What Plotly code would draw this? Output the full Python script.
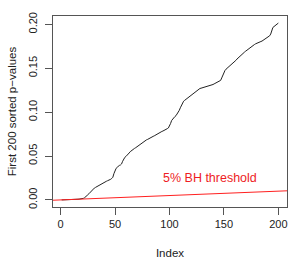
import plotly.graph_objects as go

# First 200 sorted p-values
pvals = [
    0.0000, 0.0000, 0.0001, 0.0001, 0.0001, 0.0002, 0.0002, 0.0003, 0.0003, 0.0004,
    0.0004, 0.0005, 0.0005, 0.0006, 0.0007, 0.0008, 0.0009, 0.0010, 0.0011, 0.0013,
    0.0018, 0.0025, 0.0033, 0.0045, 0.0058, 0.0070, 0.0085, 0.0098, 0.0110, 0.0122,
    0.0135, 0.0142, 0.0150, 0.0158, 0.0163, 0.0170, 0.0178, 0.0185, 0.0190, 0.0197,
    0.0205, 0.0212, 0.0218, 0.0222, 0.0228, 0.0235, 0.0245, 0.0258, 0.0300, 0.0345,
    0.0360, 0.0372, 0.0385, 0.0393, 0.0398, 0.0410, 0.0440, 0.0465, 0.0485, 0.0495,
    0.0505, 0.0520, 0.0535, 0.0550, 0.0562, 0.0572, 0.0580, 0.0588, 0.0595, 0.0605,
    0.0615, 0.0625, 0.0635, 0.0645, 0.0655, 0.0665, 0.0672, 0.0678, 0.0685, 0.0690,
    0.0695, 0.0702, 0.0710, 0.0718, 0.0724, 0.0730, 0.0738, 0.0748, 0.0755, 0.0762,
    0.0770, 0.0776, 0.0780, 0.0785, 0.0790, 0.0798, 0.0805, 0.0812, 0.0820, 0.0840,
    0.0870, 0.0905, 0.0925, 0.0940, 0.0950, 0.0960, 0.0978, 0.0995, 0.1020, 0.1050,
    0.1080, 0.1105, 0.1125, 0.1135, 0.1145, 0.1155, 0.1165, 0.1175, 0.1185, 0.1192,
    0.1200, 0.1210, 0.1222, 0.1235, 0.1248, 0.1258, 0.1265, 0.1270, 0.1273, 0.1276,
    0.1280, 0.1285, 0.1290, 0.1295, 0.1298, 0.1302, 0.1305, 0.1308, 0.1310, 0.1315,
    0.1322, 0.1330, 0.1338, 0.1345, 0.1350, 0.1355, 0.1362, 0.1390, 0.1420, 0.1460,
    0.1475, 0.1490, 0.1500, 0.1512, 0.1525, 0.1538, 0.1550, 0.1560, 0.1570, 0.1580,
    0.1590, 0.1605, 0.1618, 0.1632, 0.1645, 0.1655, 0.1665, 0.1675, 0.1685, 0.1695,
    0.1705, 0.1715, 0.1728, 0.1740, 0.1750, 0.1758, 0.1765, 0.1770, 0.1778, 0.1785,
    0.1790, 0.1795, 0.1800, 0.1805, 0.1810, 0.1818, 0.1825, 0.1835, 0.1845, 0.1855,
    0.1865, 0.1870, 0.1890, 0.1935, 0.1965, 0.1975, 0.1985, 0.1995, 0.2005, 0.2015,
]
index = list(range(1, len(pvals) + 1))

alpha = 0.05
m_tests = 1000
x_ticks = [0, 50, 100, 150, 200]
y_ticks = [0.00, 0.05, 0.10, 0.15, 0.20]
y_tick_labels = ["0.00", "0.05", "0.10", "0.15", "0.20"]
label_text = "5% BH threshold"
label_pos = (137, 0.0255)

# R-style 4% axis extension
xpad = (max(index) - min(index)) * 0.04
ypad = (max(pvals) - min(pvals)) * 0.04
xr = [min(index) - xpad, max(index) + xpad]
yr = [min(pvals) - ypad, max(pvals) + ypad]

FONT = "Liberation Sans, Arial, Helvetica, sans-serif"

fig = go.Figure()
fig.add_trace(go.Scatter(x=index, y=pvals, mode="lines",
                         line=dict(color="#222222", width=1), hoverinfo="skip"))
fig.add_trace(go.Scatter(x=xr, y=[alpha * v / m_tests for v in xr], mode="lines",
                         line=dict(color="#ff2020", width=1), hoverinfo="skip"))
fig.add_annotation(x=label_pos[0], y=label_pos[1], text=label_text, showarrow=False,
                   font=dict(family=FONT, size=12.5, color="#ee1c24"))

axis_common = dict(showgrid=False, zeroline=False, showline=True, mirror=True,
                   linecolor="#555555", linewidth=1, ticks="outside", ticklen=7,
                   tickcolor="#555555", tickfont=dict(family=FONT, size=11, color="#222"))

fig.update_xaxes(range=xr, tickvals=x_ticks, title=dict(text="Index", standoff=19,
                 font=dict(family=FONT, size=11.5, color="#222")), **axis_common)
fig.update_yaxes(range=yr, tickvals=y_ticks, ticktext=y_tick_labels, tickangle=-90,
                 ticklabelstandoff=4,
                 title=dict(text="First 200 sorted p\u2212values", standoff=7,
                            font=dict(family=FONT, size=11.5, color="#222")), **axis_common)

fig.update_layout(width=300, height=269, showlegend=False,
                  margin=dict(l=52, r=12, t=15, b=56),
                  paper_bgcolor="white", plot_bgcolor="white")

fig.write_html("out.html")
